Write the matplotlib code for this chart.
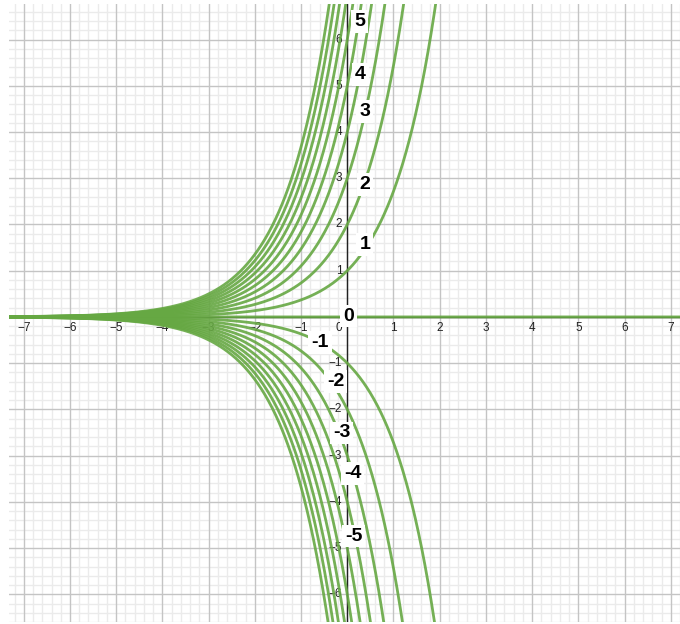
import numpy as np
import matplotlib.pyplot as plt

# family of curves y = C * e^x
c_values = [-10, -9, -8, -7, -6, -5, -4, -3, -2, -1, 0, 1, 2, 3, 4, 5, 6, 7, 8, 9, 10]

# curve labels and where they sit
label_names = ['5', '4', '3', '2', '1', '0', '-1', '-2', '-3', '-4', '-5']
label_x = [0.27, 0.29, 0.38, 0.38, 0.38, 0.03, -0.59, -0.25, -0.12, 0.12, 0.14]
label_y = [6.39, 5.24, 4.44, 2.86, 1.56, 0.02, -0.56, -1.39, -2.51, -3.38, -4.74]

x_ticks = [-7, -6, -5, -4, -3, -2, -1, 1, 2, 3, 4, 5, 6, 7]
y_ticks = [-6, -5, -4, -3, -2, -1, 1, 2, 3, 4, 5, 6]

xmin, xmax = -7.32, 7.2
ymin, ymax = -6.6, 6.77

green = '#66a843'
font = 'Liberation Sans'

fig = plt.figure(figsize=(6.8, 6.24), dpi=100)
ax = fig.add_axes([9 / 680, 2 / 624, 671 / 680, 618 / 624])
ax.set_xlim(xmin, xmax)
ax.set_ylim(ymin, ymax)

# grid: major every unit, minor every 0.2
for v in np.arange(-7.2, 7.3, 0.2):
    if abs(v - round(v)) > 1e-6:
        ax.axvline(v, color='#ebebeb', lw=1, zorder=0)
for v in np.arange(-6.6, 6.8, 0.2):
    if abs(v - round(v)) > 1e-6:
        ax.axhline(v, color='#ebebeb', lw=1, zorder=0)
for v in range(-7, 8):
    ax.axvline(v, color='#c4c4c4', lw=1, zorder=0.5)
for v in range(-6, 7):
    ax.axhline(v, color='#c4c4c4', lw=1, zorder=0.5)

# axes lines
ax.axhline(0, color='#222222', lw=1, zorder=1)
ax.axvline(0, color='#222222', lw=1, zorder=1)

# tick labels along the axes
for t in x_ticks:
    ax.text(t, -0.24, str(t).replace('-', '\u2212'), ha='center', va='center',
            fontsize=8.5, family=font, color='#222222', zorder=1)
for t in y_ticks:
    ax.text(-0.11, t, str(t).replace('-', '\u2212'), ha='right', va='center',
            fontsize=8.5, family=font, color='#222222', zorder=1)
ax.text(-0.11, -0.24, '0', ha='right', va='center', fontsize=8.5, family=font,
        color='#222222', zorder=1)

# the curves
xs = np.linspace(xmin, xmax, 1500)
for c in c_values:
    ax.plot(xs, c * np.exp(xs), color=green, lw=2, alpha=0.9, zorder=2,
            solid_capstyle='butt')

# curve labels with white boxes
for name, lx, ly in zip(label_names, label_x, label_y):
    ax.text(lx, ly, name, ha='center', va='center', fontsize=14,
            fontweight='bold', family=font, color='black', zorder=5,
            bbox=dict(boxstyle='square,pad=0.15', fc='white', ec='none'))

ax.set_xticks([])
ax.set_yticks([])
for s in ax.spines.values():
    s.set_visible(False)

fig.savefig('out.png', dpi=100)
